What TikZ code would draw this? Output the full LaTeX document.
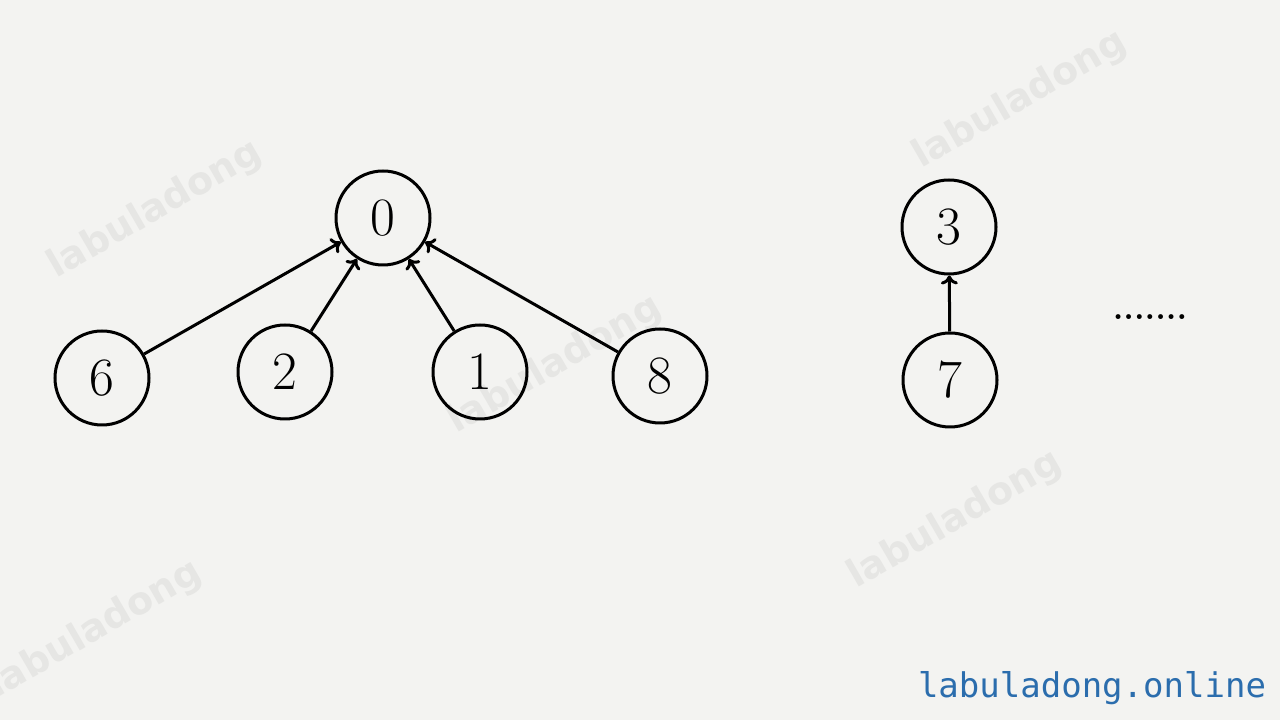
\documentclass[tikz,border=0pt]{standalone}
\usepackage{fontspec}
\usepackage{tikz}
\usetikzlibrary{arrows.meta}
\newfontfamily\markfont{DejaVu Sans}[BoldFont={DejaVu Sans Bold}]
\newfontfamily\sitefont{DejaVu Sans Mono}
\definecolor{paper}{HTML}{F3F3F1}
\definecolor{markgray}{HTML}{E6E6E4}
\definecolor{siteblue}{HTML}{2B6DAD}
\tikzset{
  vertex/.style={draw, circle, line width=3pt, minimum size=94pt, inner sep=0pt,
    font=\fontsize{54}{54}\selectfont},
  edge/.style={-{To[length=9pt, width=17pt]}, line width=3pt},
  wmark/.style={markgray, rotate=30, font=\markfont\bfseries\fontsize{38}{38}\selectfont}
}
\begin{document}
\begin{tikzpicture}[x=1pt, y=1pt]
  \fill[paper] (0,0) rectangle (1280,720);
  \useasboundingbox (0,0) rectangle (1280,720);
  \foreach \x/\y in {155/510, 555/355, 1020/620, 955/200, 95/90}
    \node[wmark] at (\x,\y) {labuladong};
  \node[vertex] (n0) at (383,502) {0};
  \node[vertex] (n6) at (102,342) {6};
  \node[vertex] (n2) at (285,348) {2};
  \node[vertex] (n1) at (480,348) {1};
  \node[vertex] (n8) at (660,344) {8};
  \node[vertex] (n3) at (949,493) {3};
  \node[vertex] (n7) at (950,340) {7};
  \node[font=\bfseries\fontsize{34}{34}\selectfont] (more) at (1150,403) {.......};
  \node[siteblue, font=\sitefont\fontsize{34}{34}\selectfont] (site) at (1092,32) {labuladong.online};
  \draw[edge] (n6) -- (n0);
  \draw[edge] (n2) -- (n0);
  \draw[edge] (n1) -- (n0);
  \draw[edge] (n8) -- (n0);
  \draw[edge] (n7) -- (n3);
\end{tikzpicture}
\end{document}
